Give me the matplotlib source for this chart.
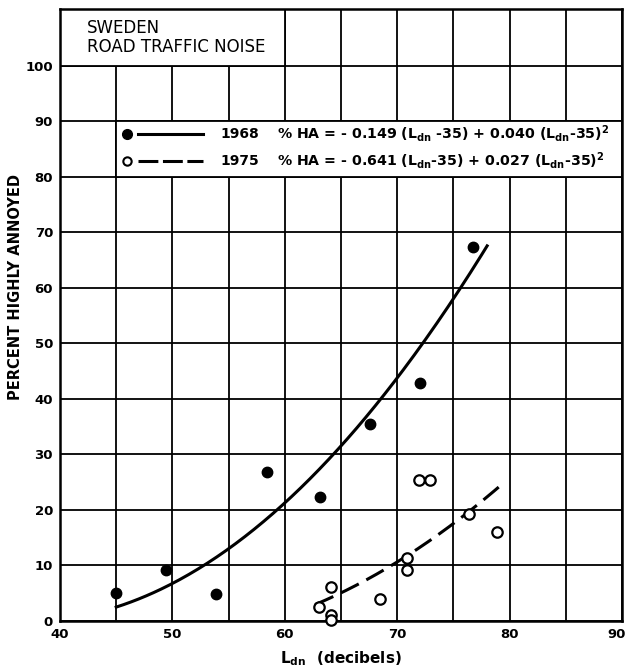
import numpy as np
import matplotlib.pyplot as plt
import matplotlib.transforms as mtransforms
from matplotlib.patches import Rectangle

# data
x_1968 = [45.0, 49.4, 53.9, 58.4, 63.1, 67.6, 72.0, 76.7]
y_1968 = [5.1, 9.1, 4.9, 26.8, 22.3, 35.5, 42.8, 67.3]

x_1975 = [63.0, 64.1, 64.1, 64.1, 68.5, 70.9, 70.9, 71.9, 72.9, 76.4, 78.9]
y_1975 = [2.6, 6.2, 1.1, 0.2, 4.0, 11.3, 9.1, 25.4, 25.4, 19.2, 16.1]

# fitted curves printed on the chart: %HA = a*(Ldn-35) + b*(Ldn-35)^2
coef_1968 = (-0.149, 0.040)
range_1968 = (45.0, 78.0)
coef_1975 = (-0.641, 0.027)
range_1975 = (62.7, 79.2)

x_ticks = [40, 50, 60, 70, 80, 90]
y_ticks = [0, 10, 20, 30, 40, 50, 60, 70, 80, 90, 100]

fig = plt.figure(figsize=(6.29, 6.69), dpi=100)
ax = fig.add_axes([0.0954, 0.0717, 0.8935, 0.9148])

ax.set_xlim(40, 90)
ax.set_ylim(0, 110.2)

# grid: every 5 in x, every 10 in y
ax.set_xticks(np.arange(40, 91, 5))
ax.set_xticklabels([str(t) if t in x_ticks else '' for t in range(40, 91, 5)])
ax.set_yticks(y_ticks)
ax.set_yticklabels([str(t) for t in y_ticks])
ax.grid(True, color='black', linewidth=1.3)
ax.set_axisbelow(True)
ax.tick_params(length=0, labelsize=9.5, pad=5)
for lab in ax.get_xticklabels() + ax.get_yticklabels():
    lab.set_fontweight('bold')
# keep the "90" inside the figure
last = ax.get_xticklabels()[-1]
last.set_transform(last.get_transform() +
                   mtransforms.ScaledTranslation(-4 / 72, 0, fig.dpi_scale_trans))
for s in ax.spines.values():
    s.set_linewidth(1.8)

# white boxes for title and legend
ax.add_patch(Rectangle((40, 100), 20, 10.2, facecolor='white', edgecolor='black',
                       linewidth=1.3, zorder=1))
ax.add_patch(Rectangle((45, 80), 45, 10, facecolor='white', edgecolor='black',
                       linewidth=1.3, zorder=1))

ax.text(42.4, 106.7, 'SWEDEN', fontsize=12, va='center', zorder=3)
ax.text(42.4, 103.3, 'ROAD TRAFFIC NOISE', fontsize=12, va='center', zorder=3)

# curves
xs = np.linspace(*range_1968, 200)
ax.plot(xs, coef_1968[0] * (xs - 35) + coef_1968[1] * (xs - 35) ** 2,
        color='black', linewidth=2.2, zorder=2)
xs = np.linspace(*range_1975, 200)
ax.plot(xs, coef_1975[0] * (xs - 35) + coef_1975[1] * (xs - 35) ** 2,
        color='black', linewidth=2.2, dashes=(6.5, 2.8), zorder=2)

# points
ax.plot(x_1968, y_1968, 'o', color='black', markersize=7.5, zorder=3, clip_on=False)
ax.plot(x_1975, y_1975, 'o', markerfacecolor='white', markeredgecolor='black',
        markeredgewidth=1.6, markersize=7.5, zorder=3, clip_on=False)

# legend drawn inside the box
ax.plot([46.0], [87.7], 'o', color='black', markersize=7, zorder=3)
ax.plot([46.9, 52.7], [87.7, 87.7], color='black', linewidth=2.2, zorder=3)
ax.plot([46.0], [82.9], 'o', markerfacecolor='white', markeredgecolor='black',
        markeredgewidth=1.5, markersize=6, zorder=3)
ax.plot([46.9, 52.7], [82.9, 82.9], color='black', linewidth=2.2,
        dashes=(6.5, 1.5), zorder=3)
ax.text(54.3, 87.7, '1968', fontsize=10, fontweight='bold', va='center', zorder=3)
ax.text(54.3, 82.9, '1975', fontsize=10, fontweight='bold', va='center', zorder=3)
ax.text(59.3, 87.7, r'% HA = - 0.149 (L$_{\mathbf{dn}}$ -35) + 0.040 (L$_{\mathbf{dn}}$-35)$^{\mathbf{2}}$',
        fontsize=10.2, fontweight='bold', va='center', zorder=3)
ax.text(59.3, 82.9, r'% HA = - 0.641 (L$_{\mathbf{dn}}$-35) + 0.027 (L$_{\mathbf{dn}}$-35)$^{\mathbf{2}}$',
        fontsize=10.2, fontweight='bold', va='center', zorder=3)

ax.text(-0.08, 0.545, 'PERCENT HIGHLY ANNOYED', transform=ax.transAxes, rotation=90,
        fontsize=10.5, fontweight='bold', ha='center', va='center')
ax.set_xlabel(r'L$_{\mathbf{dn}}$  (decibels)', fontsize=11, fontweight='bold', labelpad=6)

plt.savefig('out.png', dpi=100)
